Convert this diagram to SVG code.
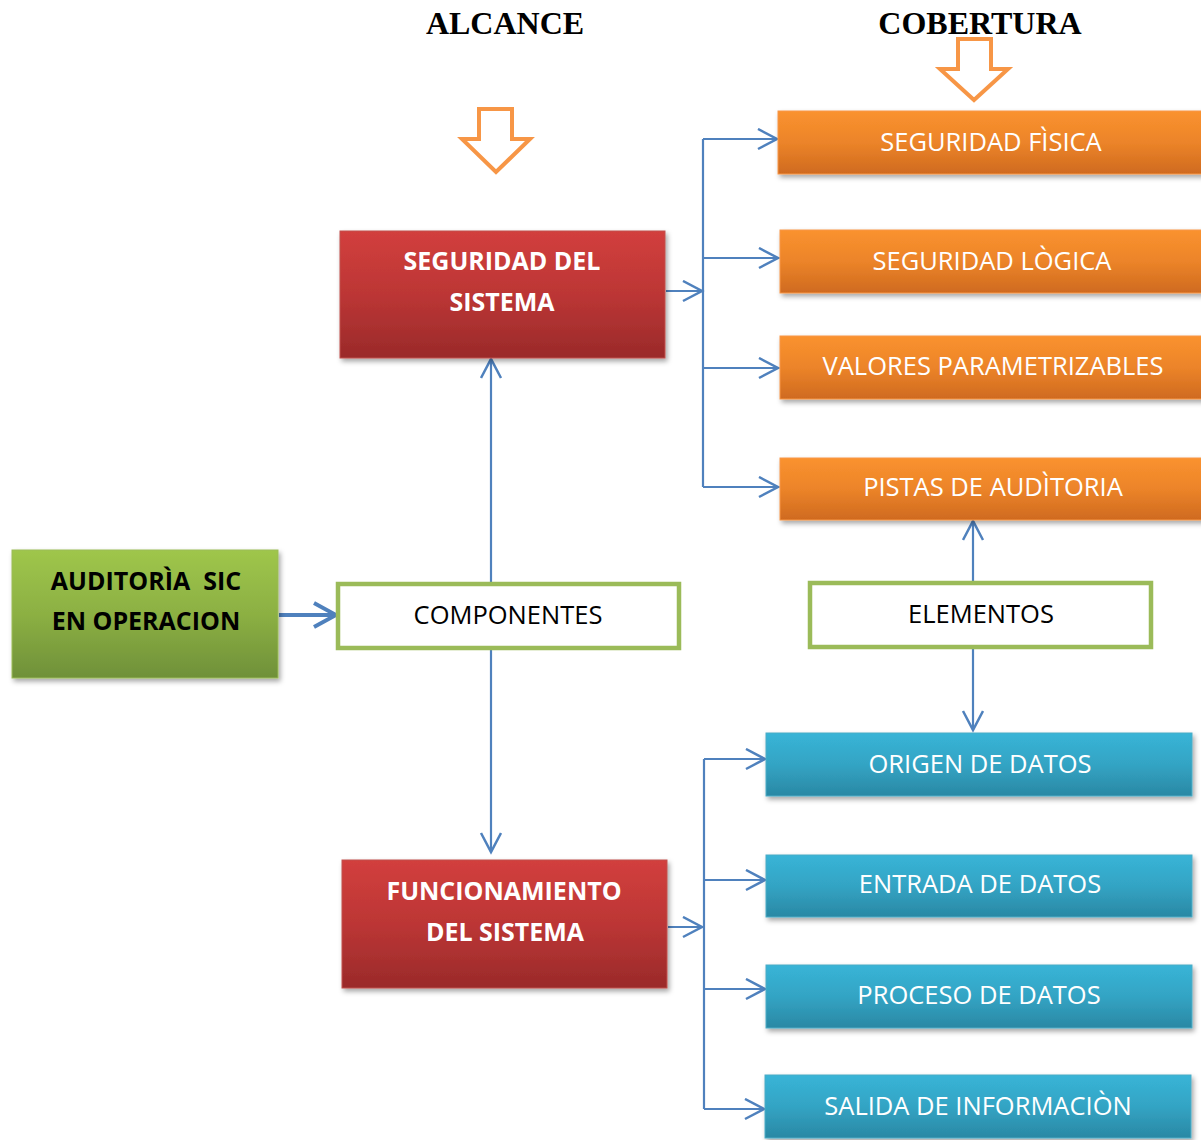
<svg xmlns="http://www.w3.org/2000/svg" width="1201" height="1140" viewBox="0 0 1201 1140">
  <defs>
    <linearGradient id="gRed" x1="0" y1="0" x2="0" y2="1">
      <stop offset="0" stop-color="#D23F3D"/>
      <stop offset="0.5" stop-color="#BC3635"/>
      <stop offset="1" stop-color="#9A2A2A"/>
    </linearGradient>
    <linearGradient id="gOrange" x1="0" y1="0" x2="0" y2="1">
      <stop offset="0" stop-color="#FA922F"/>
      <stop offset="0.5" stop-color="#EC8429"/>
      <stop offset="1" stop-color="#CF6A1F"/>
    </linearGradient>
    <linearGradient id="gGreen" x1="0" y1="0" x2="0" y2="1">
      <stop offset="0" stop-color="#9FC64B"/>
      <stop offset="0.5" stop-color="#8CB043"/>
      <stop offset="1" stop-color="#6F9039"/>
    </linearGradient>
    <linearGradient id="gBlue" x1="0" y1="0" x2="0" y2="1">
      <stop offset="0" stop-color="#38B4D7"/>
      <stop offset="0.5" stop-color="#33A4C4"/>
      <stop offset="1" stop-color="#2A88A4"/>
    </linearGradient>
    <filter id="shadow" x="-5%" y="-10%" width="115%" height="130%">
      <feDropShadow dx="2" dy="3" stdDeviation="2.5" flood-color="#000" flood-opacity="0.35"/>
    </filter>
    <marker id="open" markerUnits="userSpaceOnUse" markerWidth="24" markerHeight="24" viewBox="0 0 24 24" refX="20" refY="11" orient="auto">
      <path d="M1,1 L20,11 L1,21" fill="none" stroke="#4F81BD" stroke-width="2.5"/>
    </marker>
    <marker id="bold" markerUnits="userSpaceOnUse" markerWidth="28" markerHeight="30" viewBox="0 0 28 30" refX="24" refY="14" orient="auto">
      <path d="M2,2 L24,14 L2,26" fill="none" stroke="#4F81BD" stroke-width="4"/>
    </marker>
  </defs>
  <style>
    .title { font-family: "Liberation Serif", serif; font-weight: bold; font-size: 32px; fill: #000; }
    .lbl { font-family: "Open Sans", "Noto Sans", sans-serif; font-size: 25.5px; text-anchor: middle; }
    .w { fill: #FFFFFF; }
    .k { fill: #000000; }
    .b { font-weight: bold; font-size: 25px; }
    .wire { fill: none; stroke: #4F81BD; stroke-width: 2.2; }
    .bigArrow { fill: #FFFFFF; stroke: #F79646; stroke-width: 4; stroke-linejoin: miter; }
    .outline { fill: #FFFFFF; stroke: #9BBB59; stroke-width: 4.5; }
    .red { fill: url(#gRed); stroke: #C0504D; stroke-width: 1; filter: url(#shadow); }
    .org { fill: url(#gOrange); stroke: #F79646; stroke-width: 1; filter: url(#shadow); }
    .grn { fill: url(#gGreen); stroke: #9BBB59; stroke-width: 1; filter: url(#shadow); }
    .blu { fill: url(#gBlue); stroke: #4BACC6; stroke-width: 1; filter: url(#shadow); }
  </style>

  <!-- column headings -->
  <text class="title" x="505" y="34" text-anchor="middle">ALCANCE</text>
  <text class="title" x="980" y="34" text-anchor="middle">COBERTURA</text>

  <!-- hollow down arrows under the headings -->
  <polygon class="bigArrow" points="479,109 512,109 512,139 530,139 496,172 462,139 479,139"/>
  <polygon class="bigArrow" points="958,39 991,39 991,69 1008,69 974,100 940,69 958,69"/>

  <!-- connectors -->
  <g id="connectors">
    <!-- input into COMPONENTES -->
    <line x1="279" y1="615" x2="336" y2="615" stroke="#4F81BD" stroke-width="4" marker-end="url(#bold)"/>
    <!-- COMPONENTES up / down -->
    <line class="wire" x1="491" y1="582" x2="491" y2="359" marker-end="url(#open)"/>
    <line class="wire" x1="491" y1="650" x2="491" y2="852" marker-end="url(#open)"/>
    <!-- ELEMENTOS up / down -->
    <line class="wire" x1="973" y1="581" x2="973" y2="521" marker-end="url(#open)"/>
    <line class="wire" x1="973" y1="649" x2="973" y2="730" marker-end="url(#open)"/>
    <!-- security branch -->
    <line class="wire" x1="666" y1="291" x2="702" y2="291" marker-end="url(#open)"/>
    <path class="wire" d="M703,139 L703,487"/>
    <line class="wire" x1="703" y1="139" x2="777" y2="139" marker-end="url(#open)"/>
    <line class="wire" x1="703" y1="258" x2="778" y2="258" marker-end="url(#open)"/>
    <line class="wire" x1="703" y1="368" x2="778" y2="368" marker-end="url(#open)"/>
    <line class="wire" x1="703" y1="487" x2="778" y2="487" marker-end="url(#open)"/>
    <!-- operation branch -->
    <line class="wire" x1="668" y1="927" x2="702" y2="927" marker-end="url(#open)"/>
    <path class="wire" d="M704,759 L704,1109"/>
    <line class="wire" x1="704" y1="759" x2="765" y2="759" marker-end="url(#open)"/>
    <line class="wire" x1="704" y1="880" x2="765" y2="880" marker-end="url(#open)"/>
    <line class="wire" x1="704" y1="989" x2="765" y2="989" marker-end="url(#open)"/>
    <line class="wire" x1="704" y1="1109" x2="764" y2="1109" marker-end="url(#open)"/>
  </g>

  <!-- nodes -->
  <g id="auditoria">
    <rect class="grn" x="12" y="550" width="266" height="128"/>
    <text class="lbl k b" x="146" y="590" xml:space="preserve">AUDITORÌA  SIC</text>
    <text class="lbl k b" x="146" y="630">EN OPERACION</text>
  </g>
  <g id="componentes">
    <rect class="outline" x="338" y="584" width="341" height="64"/>
    <text class="lbl k" x="508" y="624">COMPONENTES</text>
  </g>
  <g id="elementos">
    <rect class="outline" x="810" y="583" width="341" height="64"/>
    <text class="lbl k" x="981" y="623">ELEMENTOS</text>
  </g>
  <g id="seguridad-sistema">
    <rect class="red" x="340" y="231" width="325" height="127"/>
    <text class="lbl w b" x="502" y="270">SEGURIDAD DEL</text>
    <text class="lbl w b" x="502" y="311">SISTEMA</text>
  </g>
  <g id="funcionamiento-sistema">
    <rect class="red" x="342" y="860" width="325" height="128"/>
    <text class="lbl w b" x="504" y="900">FUNCIONAMIENTO</text>
    <text class="lbl w b" x="505" y="941">DEL SISTEMA</text>
  </g>
  <g id="seguridad-fisica">
    <rect class="org" x="778" y="111" width="430" height="63"/>
    <text class="lbl w" x="991" y="151">SEGURIDAD FÌSICA</text>
  </g>
  <g id="seguridad-logica">
    <rect class="org" x="780" y="230" width="430" height="63"/>
    <text class="lbl w" x="992" y="270">SEGURIDAD LÒGICA</text>
  </g>
  <g id="valores-parametrizables">
    <rect class="org" x="780" y="336" width="430" height="63"/>
    <text class="lbl w" x="993" y="375">VALORES PARAMETRIZABLES</text>
  </g>
  <g id="pistas-auditoria">
    <rect class="org" x="780" y="458" width="430" height="62"/>
    <text class="lbl w" x="993" y="496">PISTAS DE AUDÌTORIA</text>
  </g>
  <g id="origen-datos">
    <rect class="blu" x="766" y="733" width="426" height="63"/>
    <text class="lbl w" x="980" y="773">ORIGEN DE DATOS</text>
  </g>
  <g id="entrada-datos">
    <rect class="blu" x="766" y="855" width="426" height="62"/>
    <text class="lbl w" x="980" y="893">ENTRADA DE DATOS</text>
  </g>
  <g id="proceso-datos">
    <rect class="blu" x="766" y="965" width="426" height="63"/>
    <text class="lbl w" x="979" y="1004">PROCESO DE DATOS</text>
  </g>
  <g id="salida-informacion">
    <rect class="blu" x="765" y="1075" width="426" height="63"/>
    <text class="lbl w" x="978" y="1115">SALIDA DE INFORMACIÒN</text>
  </g>
</svg>
